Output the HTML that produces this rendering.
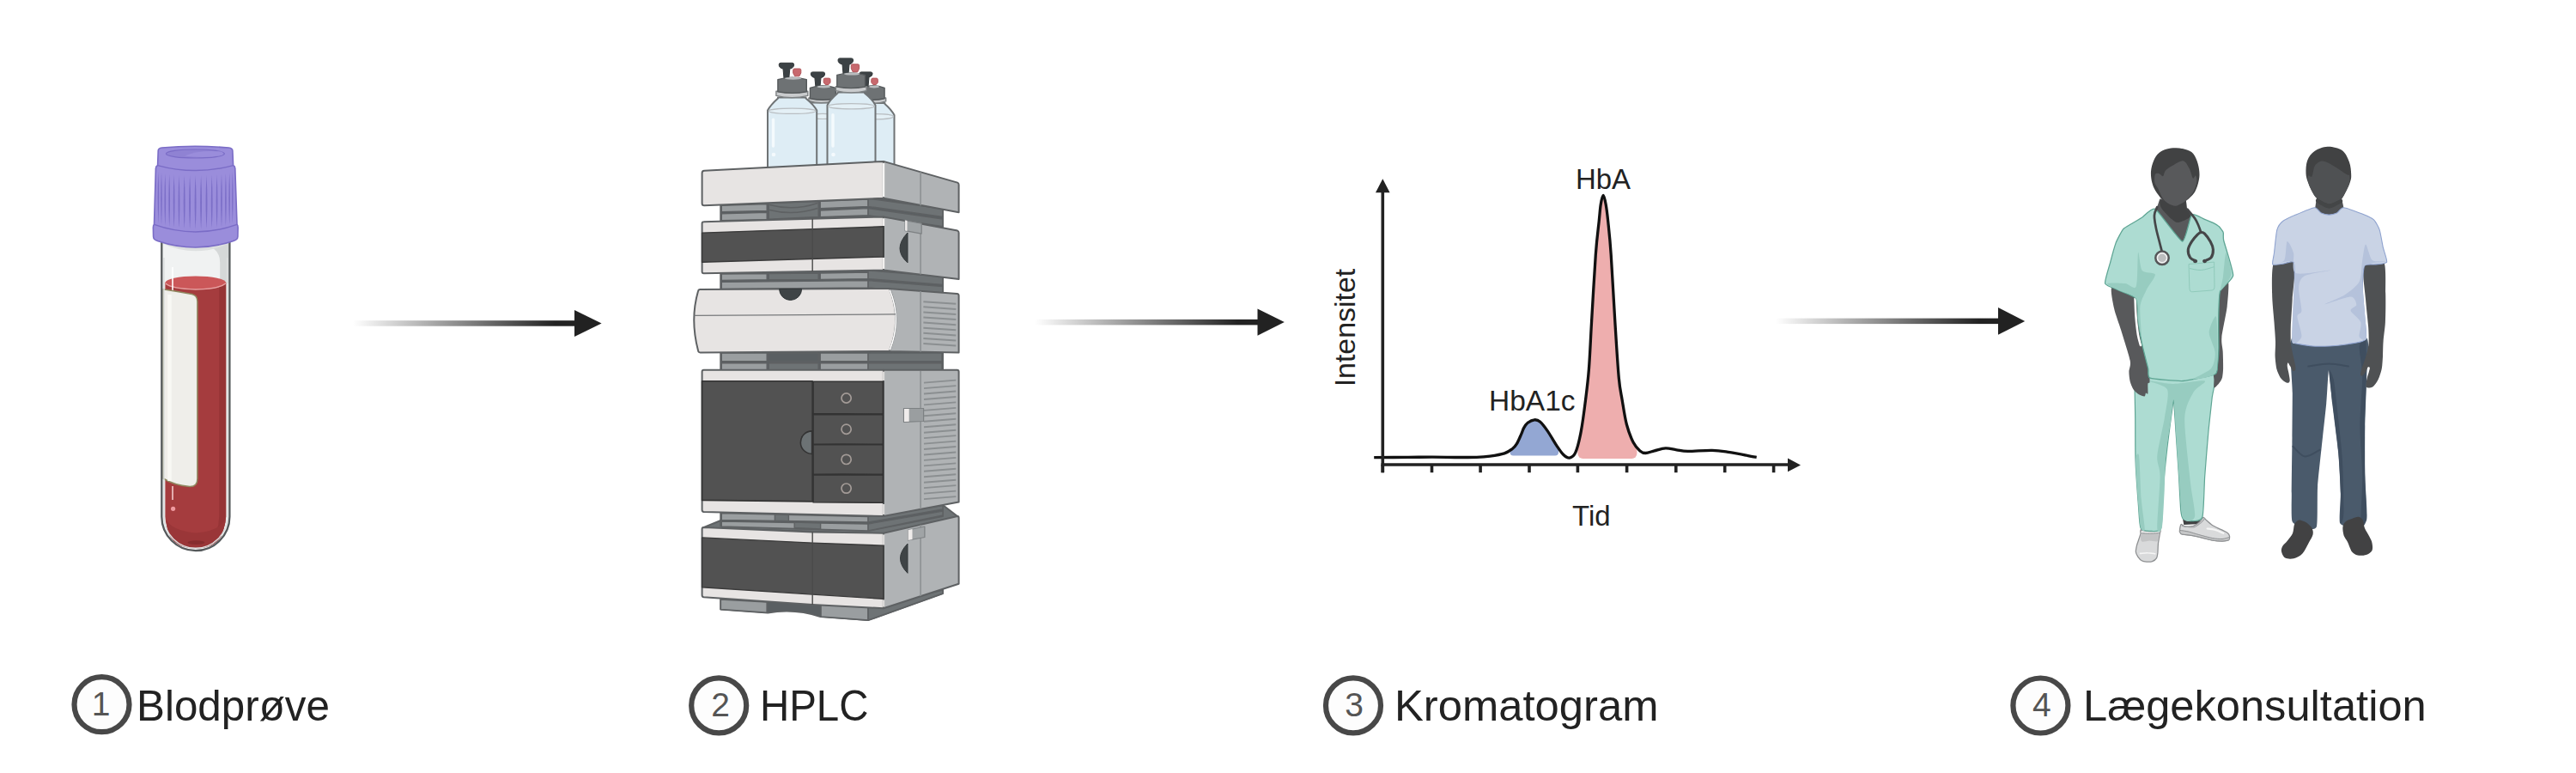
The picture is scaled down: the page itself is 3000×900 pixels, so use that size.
<!DOCTYPE html>
<html lang="da">
<head>
<meta charset="utf-8">
<title>HbA1c HPLC</title>
<style>
html,body{margin:0;padding:0;background:#fff;}
body{width:3000px;height:900px;overflow:hidden;}
svg{display:block;}
text{font-family:"Liberation Sans",sans-serif;}
.lbl{font-size:49.5px;fill:#222;}
.num{font-size:39px;fill:#555;text-anchor:middle;}
.ring{fill:#fdfdfd;stroke:#484848;stroke-width:6.2;}
.ct{font-size:34px;fill:#222;}
</style>
</head>
<body>
<svg width="3000" height="900" viewBox="0 0 3000 900">
<defs>
<linearGradient id="ag" x1="0" x2="1" y1="0" y2="0">
<stop offset="0" stop-color="#222" stop-opacity="0"/>
<stop offset="0.9" stop-color="#222" stop-opacity="1"/>
</linearGradient>
</defs>
<rect width="3000" height="900" fill="#fff"/>

<!-- ARROWS -->
<g id="arrows">
<rect x="411" y="373.2" width="262" height="6.5" fill="url(#ag)"/>
<path d="M669 361 L700.6 376.4 L669 392 Z" fill="#222"/>
<rect x="1205" y="371.9" width="263" height="6.5" fill="url(#ag)"/>
<path d="M1464.5 359.5 L1495.8 375.1 L1464.5 390.8 Z" fill="#222"/>
<rect x="2068" y="370.6" width="263" height="6.5" fill="url(#ag)"/>
<path d="M2327 358 L2358.2 373.9 L2327 389.8 Z" fill="#222"/>
</g>

<!-- LABELS -->
<g id="labels">
<circle class="ring" cx="118.5" cy="820.2" r="32"/>
<text class="num" x="117.5" y="833.3">1</text>
<text class="lbl" x="159" y="838.5" textLength="225" lengthAdjust="spacingAndGlyphs">Blodprøve</text>
<circle class="ring" cx="837.2" cy="821.4" r="32"/>
<text class="num" x="839" y="834.3">2</text>
<text class="lbl" x="885" y="838.6" textLength="126.5" lengthAdjust="spacingAndGlyphs">HPLC</text>
<circle class="ring" cx="1576" cy="821.4" r="32"/>
<text class="num" x="1577.2" y="834.3">3</text>
<text class="lbl" x="1624" y="838.6" textLength="307.5" lengthAdjust="spacingAndGlyphs">Kromatogram</text>
<circle class="ring" cx="2376.4" cy="821.5" r="32"/>
<text class="num" x="2377.8" y="834.3">4</text>
<text class="lbl" x="2426" y="838.6" textLength="399.7" lengthAdjust="spacingAndGlyphs">Lægekonsultation</text>
</g>

<!-- TUBE -->
<g id="tube">
<defs>
<clipPath id="tubeclip"><path d="M189.4 270 V601.5 A38.4 38.4 0 0 0 266.2 601.5 V270 Z"/></clipPath>
</defs>
<!-- glass -->
<path d="M188.3 270 V601.5 A39.55 39.55 0 0 0 267.4 601.5 V270 Z" fill="#f0f2f2"/>
<g clip-path="url(#tubeclip)">
<path d="M243 286 Q256.5 292 256.2 306 V330 L268 330 V276 Z" fill="#d5d8d8"/>
<path d="M189 270 V283.5 Q227.6 301 267 283.5 V270 Z" fill="#dde0e0"/>
<!-- blood body -->
<path d="M192.4 329.5 V601.5 A35.4 35.4 0 0 0 263.2 601.5 V329.5 Z" fill="#a53c3e"/>
<path d="M255.2 334 V601.5 Q255 620.5 243 632.5 Q262 624.5 263.2 601.5 V329.5 Z" fill="#963436"/>
<path d="M193.5 604.5 Q200 618 228 620.5 Q255 619 262 604.5 Q262 638.5 228 638.5 Q193.5 638.5 193.5 604.5 Z" fill="#9a3638"/>
<ellipse cx="228.5" cy="631.6" rx="10" ry="2.4" fill="#862d2f"/>
<!-- blood top -->
<ellipse cx="227.8" cy="329.2" rx="35.4" ry="7.8" fill="#cb5759"/>
<path d="M192.8 330 Q200 336.4 227.8 336.9 Q255 336.4 262.8 330" fill="none" stroke="#e7a0a1" stroke-width="1.5"/>
<path d="M201 311 V338" stroke="#fff" stroke-width="1.6"/>
<!-- label -->
<path d="M190 336.8 Q207 339.5 223.5 342.6 Q229.8 344 229.9 351 V557 Q230 566.8 221 566.6 Q203 565 190 557 Z" fill="#efeeea" stroke="#8f8961" stroke-width="1.5"/>
<path d="M197.5 343 V560" stroke="#f8f8f4" stroke-width="4.5"/>
<path d="M201 566 V582" stroke="#f3c9cb" stroke-width="1.6"/>
<circle cx="201.6" cy="592.3" r="2.6" fill="#ef9aa0"/>
</g>
<path d="M188.3 270 V601.5 A39.55 39.55 0 0 0 267.4 601.5 V270" fill="none" stroke="#55595b" stroke-width="2.3"/>
<path d="M191 300 V601.5 A36.85 36.85 0 0 0 264.7 601.5 V300" fill="none" stroke="#dcdfdf" stroke-width="1.5"/>
<!-- cap -->
<path d="M184.2 176 Q184 172.5 188.5 172 Q227 168.6 266.5 172 Q271 172.5 270.9 176 L271.6 192.4 Q273.6 193.2 273.8 196 L276 261 Q277.3 262.5 277.1 266 L276.9 275.5 Q276.7 279.3 272 280.4 Q227.6 295.5 183.4 280.4 Q178.8 279.3 178.6 275.5 L178.4 266 Q178.2 262.5 179.5 261 L181.4 196 Q181.6 193.2 183.6 192.4 Z" fill="#9a8ddb" stroke="#7a6cc6" stroke-width="1.6" stroke-linejoin="round"/>
<path d="M183.6 192.6 Q227.6 204.6 271.6 192.6" fill="none" stroke="#7a6cc6" stroke-width="1.5"/>
<path d="M179.5 261.4 Q227.6 278.6 276 261.4" fill="none" stroke="#7a6cc6" stroke-width="1.5"/>
<ellipse cx="227.4" cy="179" rx="34" ry="5" fill="#8f82d3" stroke="#7a6cc6" stroke-width="1.2"/>
<path d="M215 181.5 Q232 174.5 258 176.5 Q262 179 258 181 Q238 184.5 215 181.5 Z" fill="#9a8ddb"/>
<g fill="#7b6ec7" stroke="none"><path d="M184.4 200.0 Q183.0 230.0 184.4 260.0 Q185.8 230.0 184.4 200.0 Z"/><path d="M188.0 201.1 Q186.5 231.3 188.0 261.5 Q189.6 231.3 188.0 201.1 Z"/><path d="M192.3 202.0 Q190.7 232.4 192.3 262.8 Q193.9 232.4 192.3 202.0 Z"/><path d="M197.2 202.7 Q195.5 233.4 197.2 264.0 Q198.9 233.4 197.2 202.7 Z"/><path d="M202.6 203.4 Q200.9 234.1 202.6 264.9 Q204.4 234.1 202.6 203.4 Z"/><path d="M208.5 203.9 Q206.7 234.7 208.5 265.6 Q210.3 234.7 208.5 203.9 Z"/><path d="M214.7 204.2 Q212.8 235.2 214.7 266.1 Q216.5 235.2 214.7 204.2 Z"/><path d="M221.1 204.4 Q219.2 235.4 221.1 266.4 Q223.0 235.4 221.1 204.4 Z"/><path d="M227.6 204.5 Q225.7 235.5 227.6 266.5 Q229.5 235.5 227.6 204.5 Z"/><path d="M234.1 204.4 Q232.2 235.4 234.1 266.4 Q236.0 235.4 234.1 204.4 Z"/><path d="M240.5 204.2 Q238.7 235.2 240.5 266.1 Q242.4 235.2 240.5 204.2 Z"/><path d="M246.7 203.9 Q244.9 234.7 246.7 265.6 Q248.5 234.7 246.7 203.9 Z"/><path d="M252.6 203.4 Q250.8 234.1 252.6 264.9 Q254.3 234.1 252.6 203.4 Z"/><path d="M258.0 202.7 Q256.3 233.4 258.0 264.0 Q259.7 233.4 258.0 202.7 Z"/><path d="M262.9 202.0 Q261.3 232.4 262.9 262.8 Q264.5 232.4 262.9 202.0 Z"/><path d="M267.2 201.1 Q265.6 231.3 267.2 261.5 Q268.7 231.3 267.2 201.1 Z"/><path d="M270.8 200.0 Q269.4 230.0 270.8 260.0 Q272.2 230.0 270.8 200.0 Z"/></g>
</g>

<!-- HPLC -->
<g id="hplc">
<g id="bottles">
<path d="M945 119.5 L945 120.5 Q947 129 944 135 V196 H972 V135 Q969 129 970 120.5 L970 119.5 Z" fill="#deedf5" stroke="#6f7375" stroke-width="2" stroke-linejoin="round" />
<ellipse cx="958.0" cy="135.4" rx="12.8" ry="3.1" fill="#e4f0f6" stroke="#b9bec2" stroke-width="1.2"/>
<path d="M946.3 83.9 H958.6 Q960.6 83.9 960.6 85.9 Q960.6 89.5 956 90.5 L955 100.8 H949.9 L948.9 90.5 Q944.3 89.5 944.3 85.9 Q944.3 83.9 946.3 83.9 Z" fill="#3c4245" stroke="#33383a" stroke-width="1" stroke-linejoin="round" />
<path d="M960.7 91.1 H965.5 Q967 91.1 967 92.6 V96.1 L965 98.5 H961.2 L959.2 96.1 V92.6 Q959.2 91.1 960.7 91.1 Z" fill="#c8696e" stroke="#b2575c" stroke-width="1" stroke-linejoin="round" />
<path d="M941.9 114 H970.6 V117.5 Q956.25 122.0 941.9 117.5 Z" fill="#c9cbcd" stroke="#7d8183" stroke-width="1.4" stroke-linejoin="round" />
<path d="M943.4 102.3 Q958.4 97.3 973.4 102.3 V114.7 Q958.4 117.7 943.4 114.7 Z" fill="#6e7274" stroke="#55595b" stroke-width="1.4" stroke-linejoin="round" />
<ellipse cx="959.4" cy="101.0" rx="8.0" ry="1.5" fill="#b9bcbe"/>
<path d="M1009 119.9 L1009 120.9 Q1003 128 1000 134 V196 H1041.5 V134 Q1038.5 128 1030.5 120.9 L1030.5 119.9 Z" fill="#deedf5" stroke="#6f7375" stroke-width="2" stroke-linejoin="round" />
<ellipse cx="1020.75" cy="135.7" rx="19.55" ry="3.1" fill="#e4f0f6" stroke="#b9bec2" stroke-width="1.2"/>
<path d="M1003 83.9 H1014.1 Q1016.1 83.9 1016.1 85.9 Q1016.1 88.8 1012 89.8 L1011 100.8 H1006 L1005 89.8 Q1001 88.8 1001 85.9 Q1001 83.9 1003 83.9 Z" fill="#3c4245" stroke="#33383a" stroke-width="1" stroke-linejoin="round" />
<path d="M1016.3 91.1 H1020.8 Q1022.3 91.1 1022.3 92.6 V96.1 L1020.3 98.5 H1016.8 L1014.8 96.1 V92.6 Q1014.8 91.1 1016.3 91.1 Z" fill="#c8696e" stroke="#b2575c" stroke-width="1" stroke-linejoin="round" />
<path d="M1005 114 H1031.7 V117.9 Q1018.35 122.4 1005 117.9 Z" fill="#c9cbcd" stroke="#7d8183" stroke-width="1.4" stroke-linejoin="round" />
<path d="M1004 102.3 Q1017.05 97.3 1030.1 102.3 V114.7 Q1017.05 117.7 1004 114.7 Z" fill="#6e7274" stroke="#55595b" stroke-width="1.4" stroke-linejoin="round" />
<ellipse cx="1018.05" cy="101.0" rx="6.0499999999999545" ry="1.5" fill="#b9bcbe"/>
<path d="M906 113.4 L906 114.4 Q897 122.5 894 128.5 V196 H951.2 V128.5 Q948.2 122.5 938.5 114.4 L938.5 113.4 Z" fill="#deedf5" stroke="#6f7375" stroke-width="2" stroke-linejoin="round" />
<ellipse cx="922.6" cy="129.3" rx="27.400000000000023" ry="3.1" fill="#e4f0f6" stroke="#b9bec2" stroke-width="1.2"/>
<path d="M900.5 139.3 V170" stroke="#f4fafd" stroke-width="3.4" stroke-linecap="round" fill="none"/>
<circle cx="901" cy="180" r="2.3" fill="#f4fafd"/>
<path d="M909.2 73.3 H922.6 Q924.6 73.3 924.6 75.3 Q924.6 79.1 919.8 80.1 L918.8 91.1 H913 L912 80.1 Q907.2 79.1 907.2 75.3 Q907.2 73.3 909.2 73.3 Z" fill="#3c4245" stroke="#33383a" stroke-width="1" stroke-linejoin="round" />
<path d="M925.2 80 H931.3 Q932.8 80 932.8 81.5 V85 L930.8 88.8 H925.7 L923.7 85 V81.5 Q923.7 80 925.2 80 Z" fill="#c8696e" stroke="#b2575c" stroke-width="1" stroke-linejoin="round" />
<path d="M903.9 106.3 H940.8 V111.4 Q922.3499999999999 115.9 903.9 111.4 Z" fill="#c9cbcd" stroke="#7d8183" stroke-width="1.4" stroke-linejoin="round" />
<path d="M905.9 92.6 Q922.5999999999999 87.6 939.3 92.6 V106.9 Q922.5999999999999 109.9 905.9 106.9 Z" fill="#6e7274" stroke="#55595b" stroke-width="1.4" stroke-linejoin="round" />
<ellipse cx="923.5999999999999" cy="91.3" rx="9.699999999999989" ry="1.5" fill="#b9bcbe"/>
<path d="M975.5 107.6 L975.5 108.6 Q966.5 116.5 963.5 122.5 V196 H1019.5 V122.5 Q1016.5 116.5 1007 108.6 L1007 107.6 Z" fill="#deedf5" stroke="#6f7375" stroke-width="2" stroke-linejoin="round" />
<ellipse cx="991.5" cy="123.7" rx="26.8" ry="3.1" fill="#e4f0f6" stroke="#b9bec2" stroke-width="1.2"/>
<path d="M970.0 133.7 V170" stroke="#f4fafd" stroke-width="3.4" stroke-linecap="round" fill="none"/>
<circle cx="970.5" cy="180" r="2.3" fill="#f4fafd"/>
<path d="M978 67.9 H991.6 Q993.6 67.9 993.6 69.9 Q993.6 73.9 989 74.9 L988 85.9 H982 L981 74.9 Q976 73.9 976 69.9 Q976 67.9 978 67.9 Z" fill="#3c4245" stroke="#33383a" stroke-width="1" stroke-linejoin="round" />
<path d="M992.8 74.8 H999.1 Q1000.6 74.8 1000.6 76.3 V79.8 L998.6 83.9 H993.3 L991.3 79.8 V76.3 Q991.3 74.8 992.8 74.8 Z" fill="#c8696e" stroke="#b2575c" stroke-width="1" stroke-linejoin="round" />
<path d="M973.4 100.7 H1009.1 V105.6 Q991.25 110.1 973.4 105.6 Z" fill="#c9cbcd" stroke="#7d8183" stroke-width="1.4" stroke-linejoin="round" />
<path d="M974.8 87.4 Q991.15 82.4 1007.5 87.4 V101.1 Q991.15 104.1 974.8 101.1 Z" fill="#6e7274" stroke="#55595b" stroke-width="1.4" stroke-linejoin="round" />
<ellipse cx="992.15" cy="86.10000000000001" rx="9.350000000000023" ry="1.5" fill="#b9bcbe"/>
</g>
<path d="M839.3 697 L1011.1 706 L1098 686 V691.1 L1011.1 722.1 L955.5 718 Q925 708 894.2 713.5 L839.3 709.5 Z" fill="#5a5f62" stroke="#5e6163" stroke-width="2" stroke-linejoin="round" />
<path d="M839.3 698 L893.2 701 V713.2 L839.3 709.5 Z" fill="#9a9ea0" stroke="#5e6163" stroke-width="1.6" stroke-linejoin="round" />
<path d="M956 704 L1011.1 707 V722.1 L956 718 Z" fill="#9a9ea0" stroke="#5e6163" stroke-width="1.6" stroke-linejoin="round" />
<path d="M1011.1 707 L1098 686.9 V691.1 L1011.1 722.1 Z" fill="#6e7375" stroke="#5e6163" stroke-width="1.6" stroke-linejoin="round" />
<path d="M818.6 614.5 L839.3 606 L1098 588 L1115.6 601.5 L1028.9 621.5 Z" fill="#6e7375" stroke="#5e6163" stroke-width="2" stroke-linejoin="round" />
<path d="M839.3 594 L1011.1 599 L1098 586 V601 L1011.1 618 L839.3 612.5 Z" fill="#5a5f62" stroke="#5e6163" stroke-width="2" stroke-linejoin="round" />
<path d="M840.3 597.5 L1011.1 601.5 V608 L840.3 605.5 Z" fill="#9a9ea0" stroke="#5e6163" stroke-width="1.4" stroke-linejoin="round" />
<path d="M840.3 607 L1011.1 610 V618 L840.3 613 Z" fill="#9a9ea0" stroke="#5e6163" stroke-width="1.4" stroke-linejoin="round" />
<path d="M902.4 598.8 L918.4 599.5 V606.6 L902.4 606.2 Z" fill="#6e7375" stroke="#5e6163" stroke-width="1.4" stroke-linejoin="round" />
<path d="M925.2 608 L955.6 609 V616 L925.2 614.5 Z" fill="#6e7375" stroke="#5e6163" stroke-width="1.4" stroke-linejoin="round" />
<path d="M1011.1 601 L1098 588.6 V593 L1011.1 608 Z" fill="#6e7375" stroke="#5e6163" stroke-width="1.4" stroke-linejoin="round" />
<path d="M1011.1 610 L1098 595 V600 L1011.1 618 Z" fill="#6e7375" stroke="#5e6163" stroke-width="1.4" stroke-linejoin="round" />
<path d="M1028.9 620.7 L1115.1 601 Q1116.6 601 1116.6 603 V679.7 L1028.9 708.2 Z" fill="#b0b3b5" stroke="#5e6163" stroke-width="2" stroke-linejoin="round" />
<path d="M1072.1 611 V694" fill="none" stroke="#8b8f91" stroke-width="1.5" stroke-linejoin="round" />
<path d="M819.6 613.9 L946.2 619.5 L1028.9 620.7 V708.2 L946.2 704.1 L819.6 695.2 Q817.6 695 817.6 693 V616 Q817.6 614 819.6 613.9 Z" fill="#e7e4e3" stroke="#5e6163" stroke-width="2" stroke-linejoin="round" />
<path d="M817.6 625.9 L946.2 632.1 L1028.9 635.2 V697.3 L946.2 692.1 L817.6 683.8 Z" fill="#525252" stroke="#3a3a3a" stroke-width="1.4" stroke-linejoin="round" />
<path d="M946.2 619.5 V704.1" fill="none" stroke="#4a4a4a" stroke-width="1.4" stroke-linejoin="round" />
<path d="M1029.1000000000001 622.4 V634.4" fill="none" stroke="#dcdad9" stroke-width="2.2" stroke-linejoin="round" />
<path d="M1029.1000000000001 698.4 V706.6" fill="none" stroke="#dcdad9" stroke-width="2.2" stroke-linejoin="round" />
<path d="M1057.6 617 L1076.9 613 V625.5 L1057.6 629 Z" fill="#a0a4a6" stroke="#7d8183" stroke-width="1.2" stroke-linejoin="round" />
<path d="M1057.6 617 L1062.5 616 V628 L1057.6 629 Z" fill="#efeceb" stroke="none" stroke-width="0" stroke-linejoin="round" />
<path d="M1057 633.1 Q1040 650 1057 667.3 Z" fill="#3f4446" stroke="#33383a" stroke-width="1" stroke-linejoin="round" />
<path d="M839.3 409 H1098 V432.5 H839.3 Z" fill="#5a5f62" stroke="#5e6163" stroke-width="2" stroke-linejoin="round" />
<path d="M840.3 411 H893.2 V420.7 H840.3 Z" fill="#9a9ea0" stroke="#5e6163" stroke-width="1.4" stroke-linejoin="round" />
<path d="M895.2 411 H953.2 V420.7 H895.2 Z" fill="#5a5f62" stroke="#5e6163" stroke-width="1.4" stroke-linejoin="round" />
<path d="M955.2 411 H1011.1 V420.7 H955.2 Z" fill="#9a9ea0" stroke="#5e6163" stroke-width="1.4" stroke-linejoin="round" />
<path d="M1011.1 411 H1097 V420.7 H1011.1 Z" fill="#6e7375" stroke="#5e6163" stroke-width="1.4" stroke-linejoin="round" />
<path d="M840.3 422.8 H893.2 V431 H840.3 Z" fill="#9a9ea0" stroke="#5e6163" stroke-width="1.4" stroke-linejoin="round" />
<path d="M895.2 422.8 H953.2 V431 H895.2 Z" fill="#6e7375" stroke="#5e6163" stroke-width="1.4" stroke-linejoin="round" />
<path d="M955.2 422.8 H1011.1 V431 H955.2 Z" fill="#9a9ea0" stroke="#5e6163" stroke-width="1.4" stroke-linejoin="round" />
<path d="M1011.1 422.8 H1097 V431 H1011.1 Z" fill="#6e7375" stroke="#5e6163" stroke-width="1.4" stroke-linejoin="round" />
<path d="M1028.9 430.8 H1114.6 Q1116.6 430.8 1116.6 432.8 V584.5 L1028.9 601 Z" fill="#b0b3b5" stroke="#5e6163" stroke-width="2" stroke-linejoin="round" />
<path d="M1072.1 432 V592.5" fill="none" stroke="#8b8f91" stroke-width="1.5" stroke-linejoin="round" />
<path d="M1076 445.6 L1113.3 442.6" fill="none" stroke="#8b8f91" stroke-width="1.9" stroke-linejoin="round" />
<path d="M1076 452.1 L1113.3 449.1" fill="none" stroke="#8b8f91" stroke-width="1.9" stroke-linejoin="round" />
<path d="M1076 458.5 L1113.3 455.5" fill="none" stroke="#8b8f91" stroke-width="1.9" stroke-linejoin="round" />
<path d="M1076 465.0 L1113.3 462.0" fill="none" stroke="#8b8f91" stroke-width="1.9" stroke-linejoin="round" />
<path d="M1076 471.4 L1113.3 468.4" fill="none" stroke="#8b8f91" stroke-width="1.9" stroke-linejoin="round" />
<path d="M1076 477.9 L1113.3 474.9" fill="none" stroke="#8b8f91" stroke-width="1.9" stroke-linejoin="round" />
<path d="M1076 484.3 L1113.3 481.3" fill="none" stroke="#8b8f91" stroke-width="1.9" stroke-linejoin="round" />
<path d="M1076 490.8 L1113.3 487.8" fill="none" stroke="#8b8f91" stroke-width="1.9" stroke-linejoin="round" />
<path d="M1076 497.2 L1113.3 494.2" fill="none" stroke="#8b8f91" stroke-width="1.9" stroke-linejoin="round" />
<path d="M1076 503.7 L1113.3 500.7" fill="none" stroke="#8b8f91" stroke-width="1.9" stroke-linejoin="round" />
<path d="M1076 510.1 L1113.3 507.1" fill="none" stroke="#8b8f91" stroke-width="1.9" stroke-linejoin="round" />
<path d="M1076 516.6 L1113.3 513.6" fill="none" stroke="#8b8f91" stroke-width="1.9" stroke-linejoin="round" />
<path d="M1076 523.0 L1113.3 520.0" fill="none" stroke="#8b8f91" stroke-width="1.9" stroke-linejoin="round" />
<path d="M1076 529.5 L1113.3 526.5" fill="none" stroke="#8b8f91" stroke-width="1.9" stroke-linejoin="round" />
<path d="M1076 535.9 L1113.3 532.9" fill="none" stroke="#8b8f91" stroke-width="1.9" stroke-linejoin="round" />
<path d="M1076 542.4 L1113.3 539.4" fill="none" stroke="#8b8f91" stroke-width="1.9" stroke-linejoin="round" />
<path d="M1076 548.8 L1113.3 545.8" fill="none" stroke="#8b8f91" stroke-width="1.9" stroke-linejoin="round" />
<path d="M1076 555.2 L1113.3 552.2" fill="none" stroke="#8b8f91" stroke-width="1.9" stroke-linejoin="round" />
<path d="M1076 561.7 L1113.3 558.7" fill="none" stroke="#8b8f91" stroke-width="1.9" stroke-linejoin="round" />
<path d="M1076 568.1 L1113.3 565.1" fill="none" stroke="#8b8f91" stroke-width="1.9" stroke-linejoin="round" />
<path d="M1076 574.6 L1113.3 571.6" fill="none" stroke="#8b8f91" stroke-width="1.9" stroke-linejoin="round" />
<path d="M1076 581.1 L1113.3 578.1" fill="none" stroke="#8b8f91" stroke-width="1.9" stroke-linejoin="round" />
<path d="M819.6 430.8 H1028.9 V601 L819.6 595.9 Q817.6 595.7 817.6 593.7 V432.8 Q817.6 430.8 819.6 430.8 Z" fill="#e7e4e3" stroke="#5e6163" stroke-width="2" stroke-linejoin="round" />
<path d="M1029.1000000000001 432.6 V443" fill="none" stroke="#dcdad9" stroke-width="2.2" stroke-linejoin="round" />
<path d="M1029.1000000000001 587 V599" fill="none" stroke="#dcdad9" stroke-width="2.2" stroke-linejoin="round" />
<path d="M817.6 443.8 H946.2 V583.9 L817.6 582.4 Z" fill="#525252" stroke="#333" stroke-width="1.6" stroke-linejoin="round" />
<path d="M947.0 444.3 H1028.4 V482.1 L947.0 481.5 Z" fill="#525252" stroke="#333" stroke-width="1.6" stroke-linejoin="round" />
<path d="M947.0 482.6 H1028.4 V517.3 L947.0 516.6999999999999 Z" fill="#525252" stroke="#333" stroke-width="1.6" stroke-linejoin="round" />
<path d="M947.0 517.8 H1028.4 V552.4 L947.0 551.8 Z" fill="#525252" stroke="#333" stroke-width="1.6" stroke-linejoin="round" />
<path d="M947.0 552.9 H1028.4 V585.3 L947.0 584.6999999999999 Z" fill="#525252" stroke="#333" stroke-width="1.6" stroke-linejoin="round" />
<circle cx="985.6" cy="463.5" r="5.6" fill="none" stroke="#a39b97" stroke-width="1.7"/>
<circle cx="985.6" cy="499.7" r="5.6" fill="none" stroke="#a39b97" stroke-width="1.7"/>
<circle cx="985.6" cy="534.9" r="5.6" fill="none" stroke="#a39b97" stroke-width="1.7"/>
<circle cx="985.6" cy="568.6" r="5.6" fill="none" stroke="#a39b97" stroke-width="1.7"/>
<path d="M945.6 501.9 A13.2 13.2 0 0 0 945.6 528.4 Z" fill="#6c7274" stroke="#333" stroke-width="1.6" stroke-linejoin="round" />
<path d="M1052.5 475.5 H1075.6 V490.5 L1052.5 491.4 Z" fill="#9a9ea0" stroke="#7d8183" stroke-width="1.2" stroke-linejoin="round" />
<path d="M1053 476 H1058.7 V490.8 L1053 491 Z" fill="#efeceb" stroke="none" stroke-width="0" stroke-linejoin="round" />
<path d="M839.3 317 L1011.1 313 L1098 320 V342 L1011.1 337 H839.3 Z" fill="#5a5f62" stroke="#5e6163" stroke-width="2" stroke-linejoin="round" />
<path d="M840.3 319 L893.2 318.6 V325.8 L840.3 326.4 Z" fill="#9a9ea0" stroke="#5e6163" stroke-width="1.4" stroke-linejoin="round" />
<path d="M895.2 318.6 L953.2 318 V325.4 L895.2 325.8 Z" fill="#6e7375" stroke="#5e6163" stroke-width="1.4" stroke-linejoin="round" />
<path d="M955.2 318 L1011.1 317 V324.6 L955.2 325.4 Z" fill="#9a9ea0" stroke="#5e6163" stroke-width="1.4" stroke-linejoin="round" />
<path d="M840.3 328.4 L1011.1 326.6 V335 L840.3 336.4 Z" fill="#9a9ea0" stroke="#5e6163" stroke-width="1.4" stroke-linejoin="round" />
<path d="M1011.1 315 L1098 322 V331.5 L1011.1 324.6 Z" fill="#6e7375" stroke="#5e6163" stroke-width="1.4" stroke-linejoin="round" />
<path d="M1011.1 326.6 L1098 333.5 V341 L1011.1 335 Z" fill="#6e7375" stroke="#5e6163" stroke-width="1.4" stroke-linejoin="round" />
<path d="M1034 335.9 L1114.6 342 Q1116.6 342.2 1116.6 344.2 V410.4 L1034 408.9 Z" fill="#b0b3b5" stroke="#5e6163" stroke-width="2" stroke-linejoin="round" />
<path d="M1072.1 339 V409.5" fill="none" stroke="#8b8f91" stroke-width="1.5" stroke-linejoin="round" />
<path d="M1075.4 351.2 L1113.3 353.8" fill="none" stroke="#8b8f91" stroke-width="2" stroke-linejoin="round" />
<path d="M1075.4 357.3 L1113.3 359.9" fill="none" stroke="#8b8f91" stroke-width="2" stroke-linejoin="round" />
<path d="M1075.4 363.4 L1113.3 366.0" fill="none" stroke="#8b8f91" stroke-width="2" stroke-linejoin="round" />
<path d="M1075.4 369.5 L1113.3 372.1" fill="none" stroke="#8b8f91" stroke-width="2" stroke-linejoin="round" />
<path d="M1075.4 375.6 L1113.3 378.2" fill="none" stroke="#8b8f91" stroke-width="2" stroke-linejoin="round" />
<path d="M1075.4 381.7 L1113.3 384.3" fill="none" stroke="#8b8f91" stroke-width="2" stroke-linejoin="round" />
<path d="M1075.4 387.8 L1113.3 390.4" fill="none" stroke="#8b8f91" stroke-width="2" stroke-linejoin="round" />
<path d="M1075.4 393.9 L1113.3 396.5" fill="none" stroke="#8b8f91" stroke-width="2" stroke-linejoin="round" />
<path d="M1075.4 400.0 L1113.3 402.6" fill="none" stroke="#8b8f91" stroke-width="2" stroke-linejoin="round" />
<path d="M815.5 336.9 L1035.9 335.9 Q1050.5 372 1035.9 408.9 L815.5 410.4 Q813.3 410.4 813 408 Q803.5 372 813 339 Q813.3 336.9 815.5 336.9 Z" fill="#e7e4e3" stroke="#5e6163" stroke-width="2" stroke-linejoin="round" />
<path d="M1036.3 337.5 Q1050.3 372 1036.3 407.5" fill="none" stroke="#ffffff" stroke-width="1.6" stroke-linejoin="round" />
<path d="M808.6 367.3 L1043 365.9" fill="none" stroke="#77797b" stroke-width="1.3" stroke-linejoin="round" />
<path d="M907.6 336.5 A13 13 0 0 0 933.6 336.4 Z" fill="#3f4446" stroke="#33383a" stroke-width="1" stroke-linejoin="round" />
<path d="M839.3 237 L1011.1 229 L1098 241 V265 L1011.1 253 L839.3 258 Z" fill="#5a5f62" stroke="#5e6163" stroke-width="2" stroke-linejoin="round" />
<path d="M840.3 239.4 L893.2 237.6 V245.4 L840.3 246.6 Z" fill="#9a9ea0" stroke="#5e6163" stroke-width="1.4" stroke-linejoin="round" />
<path d="M840.3 248.8 L893.2 247.4 V255.6 L840.3 256.6 Z" fill="#9a9ea0" stroke="#5e6163" stroke-width="1.4" stroke-linejoin="round" />
<path d="M895.2 236.5 L953.2 234.6 V252.5 L895.2 255.2 Z" fill="#6e7375" stroke="#5e6163" stroke-width="1.4" stroke-linejoin="round" />
<path d="M896.2 238.5 Q924 246 952.2 236.5" fill="none" stroke="#5e6163" stroke-width="1.4" stroke-linejoin="round" />
<path d="M896.2 244.5 Q924 251.5 952.2 242.5" fill="none" stroke="#5e6163" stroke-width="1.4" stroke-linejoin="round" />
<path d="M955.2 234.4 L1011.1 232 V240.4 L955.2 242.8 Z" fill="#9a9ea0" stroke="#5e6163" stroke-width="1.4" stroke-linejoin="round" />
<path d="M955.2 245 L1011.1 242.6 V250.8 L955.2 252.6 Z" fill="#9a9ea0" stroke="#5e6163" stroke-width="1.4" stroke-linejoin="round" />
<path d="M1011.1 231 L1098 243 V252.4 L1011.1 240.4 Z" fill="#6e7375" stroke="#5e6163" stroke-width="1.4" stroke-linejoin="round" />
<path d="M1011.1 242.6 L1098 255 V263.6 L1011.1 250.8 Z" fill="#6e7375" stroke="#5e6163" stroke-width="1.4" stroke-linejoin="round" />
<path d="M1028.9 252.4 L1115.1 268.6 Q1116.6 269 1116.6 271 V324.9 L1028.9 314.5 Z" fill="#b0b3b5" stroke="#5e6163" stroke-width="2" stroke-linejoin="round" />
<path d="M1072.1 261 V319.6" fill="none" stroke="#8b8f91" stroke-width="1.5" stroke-linejoin="round" />
<path d="M819.6 258.2 L1028.9 252.4 V314.5 L819.6 318.2 Q817.6 318.2 817.6 316.2 V260.2 Q817.6 258.2 819.6 258.2 Z" fill="#e7e4e3" stroke="#5e6163" stroke-width="2" stroke-linejoin="round" />
<path d="M817.6 271.1 L1028.9 263.8 V299 L817.6 305.2 Z" fill="#525252" stroke="#3a3a3a" stroke-width="1.4" stroke-linejoin="round" />
<path d="M946.2 254.8 V316" fill="none" stroke="#4a4a4a" stroke-width="1.4" stroke-linejoin="round" />
<path d="M1029.1000000000001 254.2 V263" fill="none" stroke="#f2f0ef" stroke-width="2.2" stroke-linejoin="round" />
<path d="M1029.1000000000001 300 V313" fill="none" stroke="#f2f0ef" stroke-width="2.2" stroke-linejoin="round" />
<path d="M1054.1 256.6 L1073.2 260.2 V272.1 L1054.1 268.6 Z" fill="#a0a4a6" stroke="#7d8183" stroke-width="1.2" stroke-linejoin="round" />
<path d="M1054.1 256.6 L1056.5 257 V269 L1054.1 268.6 Z" fill="#efeceb" stroke="none" stroke-width="0" stroke-linejoin="round" />
<path d="M1057 271 Q1039 290 1057 305.8 Z" fill="#3f4446" stroke="#33383a" stroke-width="1" stroke-linejoin="round" />
<path d="M1028.9 187.9 L1115.1 212.6 Q1116.6 213.1 1116.6 215 V247.3 L1028.9 230.7 Z" fill="#b0b3b5" stroke="#5e6163" stroke-width="2" stroke-linejoin="round" />
<path d="M1072.1 200.3 V239.2" fill="none" stroke="#8b8f91" stroke-width="1.5" stroke-linejoin="round" />
<path d="M820.1 198.8 L1028.9 187.9 V230.7 L820.1 239.2 Q817.6 239.2 817.6 236.7 V201.5 Q817.6 199 820.1 198.8 Z" fill="#e7e4e3" stroke="#5e6163" stroke-width="2" stroke-linejoin="round" />
<path d="M1029.1000000000001 189.8 V229.2" fill="none" stroke="#f6f5f4" stroke-width="2.2" stroke-linejoin="round" />
</g>

<!-- CHART -->
<g id="chart">
<clipPath id="cpc"><path d="M1600.2 532.6 C1606.8 532.6 1628.7 532.5 1640.0 532.4 C1651.3 532.3 1658.0 532.1 1668.0 532.1 C1678.0 532.1 1691.4 532.5 1700.0 532.5 C1708.6 532.5 1713.8 532.6 1719.7 532.4 C1725.6 532.2 1729.8 531.9 1735.2 531.1 C1740.6 530.4 1747.7 529.3 1752.0 527.9 C1756.3 526.5 1758.7 524.5 1761.1 522.7 C1763.5 520.9 1764.6 519.7 1766.3 516.9 C1768.0 514.1 1770.1 509.0 1771.5 505.9 C1772.9 502.8 1773.4 500.4 1774.7 498.1 C1776.0 495.8 1777.2 493.9 1779.2 492.3 C1781.2 490.8 1784.6 489.0 1787.0 488.8 C1789.4 488.6 1790.9 488.8 1793.5 491.0 C1796.1 493.2 1799.3 497.5 1802.5 502.1 C1805.7 506.8 1809.9 514.4 1812.9 518.9 C1815.9 523.4 1818.1 526.9 1820.6 529.3 C1823.1 531.7 1825.5 533.5 1827.9 533.1 C1830.3 532.7 1832.7 531.9 1834.9 526.7 C1837.1 521.5 1839.4 512.2 1841.3 502.1 C1843.2 492.0 1845.0 477.9 1846.5 465.9 C1848.0 453.9 1849.2 445.3 1850.4 430.0 C1851.6 414.7 1852.3 396.2 1853.6 374.0 C1854.9 351.8 1856.9 315.9 1858.3 296.5 C1859.7 277.1 1861.2 267.3 1862.2 257.6 C1863.2 247.9 1863.4 243.2 1864.2 238.2 C1865.0 233.2 1866.2 227.4 1867.2 227.4 C1868.2 227.4 1869.3 233.2 1870.2 238.2 C1871.1 243.2 1871.7 247.9 1872.7 257.6 C1873.7 267.3 1874.9 277.1 1876.2 296.5 C1877.5 315.9 1879.3 350.1 1880.8 374.0 C1882.3 397.9 1883.9 424.7 1885.3 440.0 C1886.7 455.3 1887.7 456.8 1889.2 465.9 C1890.7 474.9 1892.2 486.1 1894.4 494.3 C1896.6 502.5 1899.5 509.9 1902.1 515.0 C1904.7 520.1 1907.5 522.8 1909.9 524.9 C1912.3 527.0 1913.6 527.5 1916.4 527.5 C1919.2 527.5 1922.8 525.9 1926.7 524.9 C1930.6 523.9 1935.4 522.0 1939.7 521.8 C1944.0 521.6 1948.3 523.2 1952.6 523.8 C1956.9 524.4 1958.6 525.3 1965.5 525.4 C1972.4 525.5 1985.8 524.1 1994.0 524.3 C2002.2 524.5 2006.1 525.4 2014.7 526.7 C2023.3 528.1 2040.5 531.5 2045.7 532.4 L2045.7 560 L1600.2 560 Z"/></clipPath>
<g clip-path="url(#cpc)"><rect x="1758.5" y="470" width="56.5" height="60.5" rx="4" fill="#93a7d3"/><rect x="1837.4" y="215" width="69" height="319" rx="6" fill="#eeaeae"/></g>
<path d="M1600.2 532.6 C1606.8 532.6 1628.7 532.5 1640.0 532.4 C1651.3 532.3 1658.0 532.1 1668.0 532.1 C1678.0 532.1 1691.4 532.5 1700.0 532.5 C1708.6 532.5 1713.8 532.6 1719.7 532.4 C1725.6 532.2 1729.8 531.9 1735.2 531.1 C1740.6 530.4 1747.7 529.3 1752.0 527.9 C1756.3 526.5 1758.7 524.5 1761.1 522.7 C1763.5 520.9 1764.6 519.7 1766.3 516.9 C1768.0 514.1 1770.1 509.0 1771.5 505.9 C1772.9 502.8 1773.4 500.4 1774.7 498.1 C1776.0 495.8 1777.2 493.9 1779.2 492.3 C1781.2 490.8 1784.6 489.0 1787.0 488.8 C1789.4 488.6 1790.9 488.8 1793.5 491.0 C1796.1 493.2 1799.3 497.5 1802.5 502.1 C1805.7 506.8 1809.9 514.4 1812.9 518.9 C1815.9 523.4 1818.1 526.9 1820.6 529.3 C1823.1 531.7 1825.5 533.5 1827.9 533.1 C1830.3 532.7 1832.7 531.9 1834.9 526.7 C1837.1 521.5 1839.4 512.2 1841.3 502.1 C1843.2 492.0 1845.0 477.9 1846.5 465.9 C1848.0 453.9 1849.2 445.3 1850.4 430.0 C1851.6 414.7 1852.3 396.2 1853.6 374.0 C1854.9 351.8 1856.9 315.9 1858.3 296.5 C1859.7 277.1 1861.2 267.3 1862.2 257.6 C1863.2 247.9 1863.4 243.2 1864.2 238.2 C1865.0 233.2 1866.2 227.4 1867.2 227.4 C1868.2 227.4 1869.3 233.2 1870.2 238.2 C1871.1 243.2 1871.7 247.9 1872.7 257.6 C1873.7 267.3 1874.9 277.1 1876.2 296.5 C1877.5 315.9 1879.3 350.1 1880.8 374.0 C1882.3 397.9 1883.9 424.7 1885.3 440.0 C1886.7 455.3 1887.7 456.8 1889.2 465.9 C1890.7 474.9 1892.2 486.1 1894.4 494.3 C1896.6 502.5 1899.5 509.9 1902.1 515.0 C1904.7 520.1 1907.5 522.8 1909.9 524.9 C1912.3 527.0 1913.6 527.5 1916.4 527.5 C1919.2 527.5 1922.8 525.9 1926.7 524.9 C1930.6 523.9 1935.4 522.0 1939.7 521.8 C1944.0 521.6 1948.3 523.2 1952.6 523.8 C1956.9 524.4 1958.6 525.3 1965.5 525.4 C1972.4 525.5 1985.8 524.1 1994.0 524.3 C2002.2 524.5 2006.1 525.4 2014.7 526.7 C2023.3 528.1 2040.5 531.5 2045.7 532.4" fill="none" stroke="#111" stroke-width="3.3" stroke-linecap="butt" stroke-linejoin="round"/>
<path d="M1610.3 222 V550.3" stroke="#222" stroke-width="3.6" fill="none"/>
<path d="M1610.3 208.3 L1618.6 224.2 H1602 Z" fill="#222"/>
<path d="M1608.5 541 H2083" stroke="#222" stroke-width="3.6" fill="none"/>
<path d="M2097 541.4 L2082 533.6 V549.2 Z" fill="#222"/>
<g stroke="#222" stroke-width="3.6" fill="none"><path d="M1610.3 541 V550.2"/><path d="M1667.5 541 V550.2"/><path d="M1724.1 541 V550.2"/><path d="M1781.0 541 V550.2"/><path d="M1837.4 541 V550.2"/><path d="M1894.6 541 V550.2"/><path d="M1951.8 541 V550.2"/><path d="M2008.7 541 V550.2"/><path d="M2065.6 541 V550.2"/></g>
<text class="ct" x="1835" y="220" textLength="64" lengthAdjust="spacingAndGlyphs">HbA</text>
<text class="ct" x="1734" y="477.5" textLength="100.5" lengthAdjust="spacingAndGlyphs">HbA1c</text>
<text class="ct" x="1831" y="612" textLength="44.5" lengthAdjust="spacingAndGlyphs">Tid</text>
<text class="ct" transform="translate(1578 450.3) rotate(-90)" textLength="137.5" lengthAdjust="spacingAndGlyphs">Intensitet</text>
</g>

<!-- PEOPLE -->
<g id="people">
<path d="M2493.6 616.3 C2495.2 615.9 2501.9 617.6 2504.8 617.6 C2507.7 617.5 2514.1 615.0 2515.5 615.8 C2516.8 616.6 2515.2 621.4 2515.0 623.5 C2514.7 625.7 2513.8 629.6 2513.5 632.2 C2513.2 634.9 2513.1 641.1 2512.9 643.4 C2512.6 645.7 2512.4 648.3 2511.6 649.6 C2510.8 651.0 2508.2 653.0 2506.6 653.6 C2505.1 654.2 2501.5 654.2 2499.8 654.1 C2498.2 654.0 2495.5 653.5 2494.2 652.7 C2492.9 652.0 2490.8 649.7 2489.9 648.4 C2489.0 647.1 2487.6 644.6 2487.4 642.8 C2487.2 641.0 2488.1 636.8 2488.6 634.7 C2489.1 632.7 2490.5 629.1 2491.1 627.3 C2491.7 625.4 2492.7 622.5 2493.0 621.1 C2493.3 619.6 2492.0 616.8 2493.6 616.3 Z" fill="#d9dadb" stroke="#8e9092" stroke-width="1.3" stroke-linejoin="round" stroke-linecap="round" />
<path d="M2494.3 621.1 C2495.8 620.1 2501.6 619.6 2504.2 619.6 C2506.7 619.6 2512.5 620.0 2513.7 621.1 C2515.0 622.1 2513.8 626.0 2513.5 627.3 C2513.2 628.5 2512.9 630.1 2511.6 630.4 C2510.3 630.7 2505.8 629.5 2503.5 629.5 C2501.3 629.6 2496.3 631.1 2494.8 630.7 C2493.4 630.4 2493.0 627.9 2493.0 626.6 C2492.9 625.4 2492.9 622.0 2494.3 621.1 Z" fill="#c3c4c5" stroke="none" stroke-width="0" stroke-linejoin="round" stroke-linecap="round" />
<path d="M2493.9 617.6 C2495.3 617.3 2501.9 618.9 2504.8 618.8 C2507.6 618.8 2513.9 616.9 2515.2 617.1 C2516.6 617.3 2516.4 619.8 2515.0 620.3 C2513.6 620.8 2507.6 621.0 2504.8 621.1 C2501.9 621.1 2495.1 621.0 2493.6 620.6 C2492.1 620.1 2492.4 617.8 2493.9 617.6 Z" fill="#efefef" stroke="#8e9092" stroke-width="1" stroke-linejoin="round" stroke-linecap="round" />
<path d="M2492.4 644.4 C2493.8 644.3 2498.2 643.6 2501.1 643.7 C2504.0 643.7 2508.3 644.5 2509.8 644.7" fill="none" stroke="#f6f6f6" stroke-width="1.6" stroke-linejoin="round" stroke-linecap="round" />
<path d="M2542.0 603.7 L2561.9 604.3 L2562.5 609.9 L2543.3 611.1 Z" fill="#414243" stroke="none" stroke-width="0" stroke-linejoin="round" stroke-linecap="round" />
<path d="M2540.2 610.5 C2540.9 610.3 2542.6 612.7 2544.5 613.0 C2546.4 613.2 2552.2 613.0 2554.5 612.4 C2556.7 611.7 2559.8 609.3 2561.3 608.0 C2562.8 606.7 2564.8 602.8 2565.9 602.4 C2567.0 602.1 2567.9 604.3 2569.4 605.5 C2570.8 606.8 2574.5 610.2 2576.8 611.7 C2579.2 613.2 2584.5 615.5 2586.8 616.7 C2589.1 617.9 2592.9 619.4 2594.2 620.4 C2595.5 621.4 2596.3 623.1 2596.5 624.2 C2596.6 625.3 2596.6 628.0 2595.5 628.8 C2594.3 629.5 2590.5 630.0 2588.0 630.0 C2585.5 630.0 2580.0 629.7 2576.8 629.1 C2573.7 628.6 2567.7 626.8 2564.4 626.0 C2561.1 625.2 2555.1 623.8 2552.0 623.3 C2548.9 622.8 2543.2 622.6 2541.4 622.0 C2539.6 621.5 2538.9 620.2 2538.6 619.2 C2538.2 618.1 2538.7 615.4 2538.9 614.2 C2539.2 613.1 2539.4 610.7 2540.2 610.5 Z" fill="#d9dadb" stroke="#8e9092" stroke-width="1.3" stroke-linejoin="round" stroke-linecap="round" />
<path d="M2539.1 617.6 C2540.5 617.5 2546.6 618.5 2549.5 619.2 C2552.4 619.9 2557.0 621.6 2560.7 622.5 C2564.3 623.5 2573.2 626.0 2576.8 626.6 C2580.5 627.3 2585.5 627.6 2588.0 627.5 C2590.6 627.4 2595.0 625.6 2596.0 625.8 C2597.0 625.9 2596.5 628.2 2595.5 628.8 C2594.4 629.3 2590.5 630.0 2588.0 630.0 C2585.5 630.0 2580.0 629.7 2576.8 629.1 C2573.7 628.6 2567.7 626.8 2564.4 626.0 C2561.1 625.2 2555.1 623.8 2552.0 623.3 C2548.9 622.8 2543.2 622.5 2541.4 622.0 C2539.7 621.6 2539.0 620.2 2538.7 619.6 C2538.4 619.0 2537.6 617.6 2539.1 617.6 Z" fill="#c6c7c8" stroke="#8e9092" stroke-width="1" stroke-linejoin="round" stroke-linecap="round" />
<path d="M2541.4 612.4 C2543.6 612.6 2550.8 614.5 2554.5 613.9 C2558.1 613.2 2561.0 610.3 2563.2 608.6 C2565.3 607.0 2566.8 604.7 2567.5 603.9" fill="none" stroke="#a2a4a6" stroke-width="1.2" stroke-linejoin="round" stroke-linecap="round" />
<path d="M2570.6 615.5 C2572.1 615.7 2576.2 615.8 2579.3 616.7 C2582.4 617.6 2587.6 620.1 2589.3 620.8" fill="none" stroke="#f6f6f6" stroke-width="2.2" stroke-linejoin="round" stroke-linecap="round" />
<path d="M2486.0 440.2 C2484.2 442.1 2486.0 444.8 2486.0 450.3 C2486.1 455.7 2486.6 477.0 2486.7 487.2 C2486.8 497.4 2486.6 525.9 2487.1 537.6 C2487.5 549.4 2489.7 579.0 2490.4 588.1 C2491.1 597.1 2491.5 611.4 2493.1 615.0 C2494.7 618.5 2501.1 618.3 2503.9 618.3 C2506.6 618.3 2514.9 620.4 2516.6 615.0 C2518.4 609.5 2518.1 582.2 2519.0 571.3 C2519.9 560.3 2522.7 532.2 2524.0 520.8 C2525.3 509.5 2529.2 480.3 2530.1 473.8 C2530.9 467.3 2531.0 461.8 2531.4 465.4 C2531.9 468.9 2533.4 493.6 2534.1 504.0 C2534.8 514.4 2536.8 543.9 2537.5 554.5 C2538.1 565.0 2539.2 589.0 2539.8 594.8 C2540.4 600.6 2540.8 602.8 2542.5 604.2 C2544.2 605.6 2551.7 606.9 2554.3 606.6 C2556.9 606.2 2563.5 607.6 2565.0 601.5 C2566.6 595.4 2566.9 565.8 2567.7 554.5 C2568.5 543.1 2570.8 514.6 2571.8 504.0 C2572.7 493.4 2575.3 471.7 2576.1 463.7 C2576.9 455.7 2582.6 439.0 2578.5 435.1 C2574.4 431.2 2549.7 430.3 2540.8 430.1 C2531.9 429.9 2508.6 432.3 2502.2 433.4 C2495.8 434.6 2487.9 438.2 2486.0 440.2 Z" fill="#addcd2" stroke="#5fa594" stroke-width="1.2" stroke-linejoin="round" stroke-linecap="round" />
<path d="M2502.2 443.5 C2503.2 442.6 2522.7 446.9 2531.4 446.9 C2540.2 446.9 2564.7 442.2 2567.7 443.5 C2570.8 444.9 2557.4 451.1 2554.3 457.0 C2551.1 462.8 2544.6 473.3 2544.2 487.2 C2543.8 501.1 2549.4 545.9 2550.9 561.2 C2552.5 576.4 2557.1 595.9 2556.0 601.5 C2554.8 607.1 2545.0 609.5 2542.5 603.2 C2540.1 596.9 2538.6 567.7 2537.5 554.5 C2536.4 541.2 2534.9 515.9 2534.1 504.0 C2533.3 492.2 2532.2 467.2 2531.4 465.4 C2530.6 463.6 2529.3 482.3 2528.1 490.6 C2526.9 498.9 2523.3 516.8 2522.4 527.6 C2521.4 538.3 2521.3 559.8 2520.7 571.3 C2520.1 582.7 2519.1 607.4 2518.0 613.3 C2516.9 619.1 2512.6 622.8 2512.3 615.0 C2512.0 607.1 2515.6 565.7 2515.6 554.5 C2515.6 543.2 2511.6 539.9 2512.3 530.9 C2512.9 522.0 2519.1 497.5 2520.7 487.2 C2522.2 476.9 2526.5 459.4 2524.0 453.6 C2521.6 447.8 2501.2 444.4 2502.2 443.5 Z" fill="#97ccc0" stroke="none" stroke-width="0" stroke-linejoin="round" stroke-linecap="round" />
<path d="M2487.1 537.6 C2487.0 545.3 2489.6 577.8 2490.4 588.1 C2491.2 598.3 2492.1 610.6 2493.1 614.3 C2494.1 618.0 2497.7 620.4 2497.8 616.0 C2497.9 611.6 2494.7 592.7 2493.8 581.3 C2492.9 570.0 2492.0 536.7 2491.1 530.9 C2490.2 525.1 2487.1 530.0 2487.1 537.6 Z" fill="#97ccc0" stroke="none" stroke-width="0" stroke-linejoin="round" stroke-linecap="round" />
<path d="M2459.1 334.7 C2457.7 338.1 2460.6 352.5 2462.1 359.2 C2463.6 365.8 2467.8 376.7 2470.3 384.8 C2472.7 392.9 2479.5 413.4 2480.7 419.8 C2481.9 426.1 2479.4 429.4 2479.4 432.7 C2479.4 436.0 2480.0 441.6 2480.7 444.3 C2481.4 447.1 2483.2 451.4 2484.6 453.4 C2486.0 455.4 2489.3 458.1 2491.0 459.2 C2492.8 460.3 2496.4 461.6 2497.5 461.4 C2498.6 461.2 2498.5 457.9 2499.1 457.5 C2499.6 457.1 2501.1 459.7 2501.4 458.3 C2501.7 456.9 2501.1 448.7 2501.4 446.9 C2501.7 445.1 2503.2 446.4 2503.5 445.0 C2503.7 443.6 2503.4 438.7 2503.5 436.6 C2503.5 434.4 2503.4 431.1 2504.0 428.8 C2504.5 426.6 2508.1 423.4 2507.5 419.7 C2506.9 416.0 2501.2 407.3 2499.4 401.1 C2497.6 394.9 2495.0 380.6 2494.0 373.1 C2493.1 365.7 2495.2 350.5 2492.4 345.2 C2489.5 339.9 2477.0 335.0 2472.6 333.6 C2468.2 332.2 2460.5 331.3 2459.1 334.7 Z" fill="#58595b" stroke="none" stroke-width="0" stroke-linejoin="round" stroke-linecap="round" />
<path d="M2594.9 327.7 C2596.2 330.2 2594.7 348.2 2593.7 356.8 C2592.7 365.5 2588.1 385.6 2587.4 392.6 C2586.7 399.6 2588.5 404.6 2588.7 409.4 C2588.9 414.2 2589.2 424.8 2589.1 428.8 C2589.0 432.8 2588.6 436.9 2588.1 439.2 C2587.5 441.4 2586.1 444.0 2584.8 445.6 C2583.6 447.3 2579.6 452.1 2578.7 451.6 C2577.9 451.1 2578.5 444.7 2578.4 441.7 C2578.2 438.7 2577.2 433.8 2577.4 429.0 C2577.6 424.2 2579.3 413.2 2579.7 405.7 C2580.2 398.3 2580.4 382.1 2580.9 373.1 C2581.3 364.1 2581.3 344.3 2583.2 338.2 C2585.1 332.2 2593.5 325.3 2594.9 327.7 Z" fill="#58595b" stroke="none" stroke-width="0" stroke-linejoin="round" stroke-linecap="round" />
<path d="M2486.6 347.5 C2486.8 351.2 2487.0 362.7 2487.6 369.7 C2488.2 376.7 2489.0 384.3 2489.9 389.7 C2490.8 395.1 2492.5 399.9 2493.0 402.0" fill="none" stroke="#ffffff" stroke-width="2.6" stroke-linejoin="round" stroke-linecap="round" />
<path d="M2515.3 231.5 L2511.7 242.4 L2509.0 245.1 L2541.6 283.2 L2554.3 250.6 L2547.0 242.4 L2545.6 232.4 Z" fill="#58595b" stroke="none" stroke-width="0" stroke-linejoin="round" stroke-linecap="round" />
<path d="M2517.1 232.4 C2514.7 232.4 2515.1 237.5 2515.9 239.7 C2516.6 241.9 2520.1 246.2 2522.6 248.7 C2525.0 251.3 2531.3 257.7 2534.3 258.7 C2537.4 259.7 2543.0 257.0 2545.2 256.0 C2547.4 255.0 2550.8 253.3 2551.0 251.5 C2551.2 249.6 2547.4 244.8 2546.6 242.4 C2545.9 240.0 2546.8 233.7 2545.2 233.3 C2543.6 233.0 2538.1 239.8 2534.3 239.7 C2530.6 239.6 2519.6 232.4 2517.1 232.4 Z" fill="#414243" stroke="none" stroke-width="0" stroke-linejoin="round" stroke-linecap="round" />
<path d="M2509.9 243.3 C2506.0 241.0 2496.8 251.8 2494.5 253.3 C2492.2 254.7 2483.9 259.6 2482.0 260.7 C2480.2 261.8 2474.1 265.0 2472.6 266.8 C2471.1 268.6 2465.5 279.3 2464.2 282.6 C2463.0 285.9 2458.5 302.2 2457.5 306.1 C2456.4 310.1 2450.8 327.4 2451.6 330.1 C2452.5 332.7 2464.9 336.8 2467.9 338.2 C2471.0 339.7 2485.9 344.6 2487.7 347.5 C2489.6 350.4 2489.5 368.7 2490.1 373.1 C2490.6 377.6 2493.8 396.4 2494.7 401.1 C2495.7 405.7 2500.9 425.8 2501.7 429.0 C2502.5 432.3 2500.6 439.0 2504.0 440.2 C2507.4 441.4 2536.2 443.9 2542.5 443.5 C2548.8 443.1 2576.4 437.1 2579.7 435.6 C2583.1 434.0 2582.2 426.9 2582.5 424.4 C2582.9 421.9 2583.8 410.0 2583.9 405.7 C2584.0 401.5 2583.5 378.7 2583.7 373.1 C2583.8 367.6 2584.1 343.7 2585.5 339.4 C2587.0 335.0 2600.3 325.7 2600.7 320.8 C2601.0 315.8 2590.7 284.2 2589.7 280.0 C2588.8 275.8 2589.7 271.8 2589.2 270.5 C2588.7 269.1 2585.1 264.5 2584.1 263.6 C2583.2 262.7 2579.2 260.3 2577.8 259.6 C2576.4 258.9 2569.0 255.9 2566.9 255.1 C2564.8 254.3 2554.6 247.9 2552.4 250.0 C2550.3 252.2 2545.1 281.5 2541.6 281.0 C2538.0 280.4 2513.8 245.6 2509.9 243.3 Z" fill="#addcd2" stroke="#5fa594" stroke-width="1.3" stroke-linejoin="round" stroke-linecap="round" />
<path d="M2490.1 294.0 C2491.0 291.5 2492.1 311.5 2494.7 314.9 C2497.4 318.3 2509.2 316.5 2509.9 319.6 C2510.5 322.7 2501.7 333.2 2499.4 338.2 C2497.1 343.2 2493.1 349.7 2492.4 356.8 C2491.7 364.0 2494.3 389.6 2494.0 391.8 C2493.7 393.9 2490.9 379.0 2490.1 373.1 C2489.2 367.2 2490.7 352.2 2487.7 347.5 C2484.8 342.9 2472.4 340.5 2467.9 338.2 C2463.4 335.9 2453.0 331.2 2454.0 330.1 C2454.9 329.0 2470.4 329.6 2474.9 330.1 C2479.4 330.5 2485.7 338.4 2487.7 333.6 C2489.8 328.7 2489.1 296.5 2490.1 294.0 Z" fill="#97ccc0" stroke="none" stroke-width="0" stroke-linejoin="round" stroke-linecap="round" />
<path d="M2572.7 387.1 C2572.9 381.5 2579.6 366.0 2580.9 368.5 C2582.2 371.0 2582.7 396.9 2582.5 405.7 C2582.4 414.6 2583.5 430.3 2579.7 435.1 C2575.9 439.8 2554.7 442.2 2554.1 441.4 C2553.5 440.6 2571.6 433.2 2575.1 429.0 C2578.5 424.9 2580.0 416.0 2579.7 410.4 C2579.4 404.8 2572.6 392.7 2572.7 387.1 Z" fill="#97ccc0" stroke="none" stroke-width="0" stroke-linejoin="round" stroke-linecap="round" />
<path d="M2592.5 294.0 C2593.8 293.7 2599.2 313.7 2598.3 319.6 C2597.5 325.5 2587.5 337.9 2586.2 338.2 C2585.0 338.5 2588.2 327.8 2589.0 321.9 C2589.9 316.0 2591.3 294.3 2592.5 294.0 Z" fill="#97ccc0" stroke="none" stroke-width="0" stroke-linejoin="round" stroke-linecap="round" />
<path d="M2549.4 307.5 L2578.6 305.1 L2579.0 334.3 Q2579.0 337.7 2576.2 338.0 L2552.7 339.8 Q2549.9 339.8 2549.9 336.6 Z" fill="none" stroke="#8cc7b8" stroke-width="0.9" stroke-linejoin="round" stroke-linecap="round" />
<path d="M2550.4 312.6 C2552.5 312.9 2558.8 314.8 2563.4 314.5 C2568.1 314.2 2575.8 311.4 2578.3 310.7" fill="none" stroke="#8cc9b9" stroke-width="1" stroke-linejoin="round" stroke-linecap="round" />
<path d="M2512.2 241.1 C2511.7 242.7 2509.2 246.6 2509.0 250.6 C2508.7 254.5 2509.7 259.6 2510.8 265.0 C2511.8 270.5 2514.1 278.3 2515.3 283.2 C2516.5 288.0 2517.6 292.2 2518.0 294.0 C2518.5 295.8 2518.0 294.0 2518.0 294.0" fill="none" stroke="#454648" stroke-width="2.7" stroke-linejoin="round" stroke-linecap="round" />
<path d="M2547.4 243.7 C2548.8 245.4 2553.9 250.9 2556.1 254.2 C2558.3 257.4 2559.4 260.5 2560.6 263.2 C2561.8 266.0 2562.9 269.6 2563.3 270.8" fill="none" stroke="#454648" stroke-width="2.7" stroke-linejoin="round" stroke-linecap="round" />
<path d="M2557.6 304.0 C2556.4 303.3 2552.2 302.0 2550.6 299.8 C2549.1 297.5 2548.0 293.6 2548.3 290.5 C2548.6 287.4 2550.5 284.3 2552.4 281.3 C2554.3 278.4 2557.9 274.5 2559.7 272.7 C2561.5 270.8 2562.0 270.6 2563.3 270.5 C2564.6 270.4 2565.5 270.1 2567.3 271.9 C2569.1 273.7 2572.5 278.3 2574.2 281.3 C2575.9 284.4 2577.2 287.4 2577.4 290.5 C2577.5 293.6 2576.8 297.5 2575.1 299.8 C2573.3 302.0 2568.3 303.3 2566.9 304.0" fill="none" stroke="#454648" stroke-width="3.1" stroke-linejoin="round" stroke-linecap="round" />
<circle cx="2556.4" cy="304.0" r="2.3" fill="#454648"/>
<circle cx="2567.6" cy="304.0" r="2.3" fill="#454648"/>
<circle cx="2518.0" cy="300.3" r="7.7" fill="#f2f2f2" stroke="#555658" stroke-width="2.5"/>
<circle cx="2518.0" cy="300.3" r="4.8" fill="#bdbebf"/>
<path d="M2534.3 172.3 C2538.0 172.4 2541.9 173.0 2545.2 174.1 C2548.5 175.2 2551.8 176.2 2554.3 179.0 C2556.7 181.8 2558.5 186.7 2559.7 190.8 C2560.9 194.9 2561.5 199.5 2561.5 203.5 C2561.5 207.4 2560.6 211.0 2559.7 214.3 C2558.8 217.7 2557.6 220.8 2556.1 223.4 C2554.6 226.0 2552.4 227.9 2550.6 229.7 C2548.8 231.5 2547.9 232.5 2545.2 234.3 C2542.5 236.0 2537.7 239.6 2534.3 240.1 C2531.0 240.5 2528.0 238.3 2525.3 237.0 C2522.6 235.6 2519.8 233.6 2518.0 232.1 C2516.2 230.6 2515.8 229.7 2514.4 227.9 C2513.1 226.2 2511.2 224.1 2509.9 221.6 C2508.5 219.0 2507.1 216.1 2506.3 212.5 C2505.4 208.9 2504.7 204.1 2505.0 199.8 C2505.3 195.6 2506.5 190.8 2508.1 187.2 C2509.6 183.5 2511.8 180.4 2514.4 178.1 C2517.0 175.8 2520.1 174.5 2523.5 173.6 C2526.8 172.6 2530.7 172.2 2534.3 172.3 Z" fill="#414243" stroke="none" stroke-width="0" stroke-linejoin="round" stroke-linecap="round" />
<path d="M2518.9 205.3 C2520.0 204.8 2520.2 200.7 2521.7 198.9 C2523.1 197.2 2525.8 195.3 2528.9 193.5 C2532.0 191.7 2539.4 186.8 2542.5 187.2 C2545.6 187.6 2548.0 193.2 2549.7 196.2 C2551.4 199.3 2552.8 206.2 2553.9 207.5 C2555.0 208.7 2556.3 203.9 2557.0 204.4 C2557.7 204.9 2558.5 208.5 2558.4 210.7 C2558.3 212.9 2557.3 216.6 2556.4 218.9 C2555.5 221.2 2554.1 223.9 2552.4 226.1 C2550.8 228.4 2547.9 231.9 2545.2 233.9 C2542.5 235.9 2537.3 239.2 2534.3 239.7 C2531.3 240.2 2527.7 238.3 2525.3 237.0 C2522.9 235.6 2520.2 233.2 2518.4 230.6 C2516.6 228.1 2514.9 222.8 2513.5 220.1 C2512.1 217.4 2509.9 215.1 2509.3 212.5 C2508.8 210.0 2509.1 204.7 2509.9 203.1 C2510.6 201.5 2513.1 201.7 2514.4 202.0 C2515.8 202.3 2517.9 205.7 2518.9 205.3 Z" fill="#58595b" stroke="none" stroke-width="0" stroke-linejoin="round" stroke-linecap="round" />
<path d="M2669.2 393.6 C2665.0 400.2 2669.8 445.4 2669.8 457.7 C2669.8 469.9 2669.5 504.3 2669.4 515.9 C2669.3 527.6 2668.8 565.0 2668.8 574.2 C2668.9 583.3 2668.1 603.1 2669.6 607.2 C2671.2 611.3 2681.5 614.4 2684.4 615.0 C2687.2 615.5 2696.5 617.9 2698.0 613.0 C2699.4 608.2 2698.5 575.7 2699.1 566.4 C2699.7 557.1 2702.8 529.4 2703.8 519.8 C2704.8 510.2 2708.4 479.0 2709.2 470.1 C2710.1 461.2 2711.4 430.9 2712.1 430.9 C2712.8 430.9 2715.1 460.4 2716.2 470.1 C2717.3 479.8 2722.2 517.2 2723.2 527.6 C2724.2 538.0 2725.7 566.0 2725.9 574.2 C2726.1 582.3 2723.7 605.2 2725.1 609.1 C2726.6 613.0 2737.6 613.4 2740.7 613.0 C2743.8 612.6 2754.9 611.1 2756.2 605.2 C2757.6 599.4 2754.5 565.6 2754.3 554.8 C2754.1 543.9 2754.1 508.2 2754.3 496.5 C2754.5 484.9 2756.0 448.5 2756.2 438.3 C2756.4 428.0 2760.6 398.3 2756.2 393.6 C2751.8 388.9 2721.0 391.7 2712.3 391.7 C2703.6 391.7 2673.5 387.0 2669.2 393.6 Z" fill="#4a5a6b" stroke="none" stroke-width="0" stroke-linejoin="round" stroke-linecap="round" />
<path d="M2747.7 403.3 C2748.2 397.6 2754.0 390.9 2755.0 395.5 C2756.1 400.2 2756.0 424.8 2755.8 438.3 C2755.7 451.7 2754.1 481.0 2753.9 496.5 C2753.7 512.0 2754.0 540.4 2754.3 554.8 C2754.5 569.2 2756.4 597.2 2755.8 604.5 C2755.2 611.7 2750.2 615.8 2749.6 609.1 C2749.0 602.5 2751.3 569.8 2751.2 554.8 C2751.0 539.7 2748.4 512.0 2748.4 496.5 C2748.4 481.0 2751.3 450.7 2751.2 438.3 C2751.1 425.8 2747.2 409.0 2747.7 403.3 Z" fill="#3f4e5f" stroke="none" stroke-width="0" stroke-linejoin="round" stroke-linecap="round" />
<path d="M2712.3 431.7 C2712.2 435.4 2715.1 457.3 2716.6 470.1 C2718.1 482.9 2722.2 513.7 2723.4 527.6 C2724.6 541.5 2725.6 563.4 2725.9 574.2 C2726.2 584.9 2725.1 605.2 2725.5 608.3 C2726.0 611.5 2729.1 607.2 2729.4 597.5 C2729.7 587.7 2728.8 550.9 2727.9 535.3 C2726.9 519.8 2723.8 493.4 2722.4 481.0 C2721.1 468.5 2719.1 448.7 2717.8 442.1 C2716.4 435.6 2712.5 427.9 2712.3 431.7 Z" fill="#3f4e5f" stroke="none" stroke-width="0" stroke-linejoin="round" stroke-linecap="round" />
<path d="M2688.3 426.6 C2692.3 426.1 2704.6 423.5 2712.3 423.5 C2720.1 423.5 2731.1 426.1 2734.9 426.6" fill="none" stroke="#3f4e5f" stroke-width="2" stroke-linejoin="round" stroke-linecap="round" />
<path d="M2670.4 519.8 C2672.7 521.7 2679.1 530.8 2684.4 531.5 C2689.6 532.1 2698.9 525.0 2701.8 523.7" fill="none" stroke="#3f4e5f" stroke-width="2" stroke-linejoin="round" stroke-linecap="round" />
<path d="M2678.7 605.5 C2680.4 605.8 2684.1 607.2 2686.1 608.6 C2688.2 610.0 2691.2 612.8 2692.4 614.8 C2693.5 616.9 2694.2 619.7 2693.6 622.3 C2693.0 624.9 2690.5 628.9 2688.6 632.2 C2686.8 635.6 2683.8 642.0 2681.2 644.7 C2678.6 647.4 2674.2 649.5 2671.2 650.2 C2668.3 651.0 2663.4 650.8 2661.3 649.6 C2659.2 648.4 2657.4 644.2 2657.0 642.2 C2656.5 640.1 2657.2 637.8 2658.2 636.0 C2659.2 634.1 2662.0 632.0 2663.8 629.8 C2665.6 627.5 2668.8 623.9 2670.0 621.1 C2671.2 618.3 2671.1 613.3 2671.9 611.1 C2672.6 609.0 2673.9 607.6 2675.0 606.8 C2676.0 605.9 2677.0 605.2 2678.7 605.5 Z" fill="#424243" stroke="none" stroke-width="0" stroke-linejoin="round" stroke-linecap="round" />
<path d="M2747.0 601.8 C2748.9 602.2 2751.0 604.2 2752.0 606.1 C2753.0 608.1 2752.7 612.0 2753.9 614.8 C2755.0 617.6 2758.1 622.2 2759.4 624.8 C2760.7 627.4 2762.1 629.8 2762.5 632.2 C2763.0 634.7 2763.6 638.9 2762.5 640.9 C2761.5 643.0 2758.2 645.1 2755.7 645.9 C2753.2 646.7 2748.3 647.1 2745.8 646.5 C2743.3 646.0 2740.7 644.5 2738.9 642.2 C2737.2 639.8 2735.4 633.8 2734.0 631.0 C2732.6 628.2 2730.5 626.1 2729.6 623.5 C2728.8 620.9 2728.1 616.0 2728.4 613.6 C2728.7 611.2 2729.8 608.9 2731.5 607.4 C2733.2 605.9 2737.2 604.5 2739.6 603.7 C2741.9 602.8 2745.2 601.4 2747.0 601.8 Z" fill="#424243" stroke="none" stroke-width="0" stroke-linejoin="round" stroke-linecap="round" />
<path d="M2648.5 305.2 C2645.1 310.0 2646.1 332.2 2646.1 341.5 C2646.1 350.8 2648.0 367.7 2648.5 375.1 C2649.0 382.6 2649.9 392.2 2650.0 397.5 C2650.2 402.8 2649.4 410.6 2649.6 414.9 C2649.8 419.3 2650.7 426.8 2651.5 430.1 C2652.3 433.3 2654.4 437.4 2655.6 439.4 C2656.9 441.3 2659.6 443.8 2660.9 444.6 C2662.1 445.5 2664.2 446.0 2664.9 445.8 C2665.7 445.6 2666.6 444.4 2666.7 442.9 C2666.8 441.4 2665.9 436.9 2665.5 434.7 C2665.1 432.6 2663.9 428.3 2663.8 426.6 C2663.6 424.9 2664.1 422.2 2664.6 422.2 C2665.0 422.2 2666.5 425.3 2667.3 426.6 C2668.0 427.9 2669.4 431.2 2670.2 431.8 C2670.9 432.4 2672.7 431.9 2673.1 431.2 C2673.5 430.5 2673.5 428.4 2673.3 426.6 C2673.1 424.7 2671.9 419.9 2671.3 417.3 C2670.8 414.6 2669.5 409.4 2669.0 406.8 C2668.5 404.1 2668.0 401.0 2667.8 397.5 C2667.7 393.9 2667.6 386.6 2667.8 380.0 C2668.1 373.4 2669.2 358.2 2669.7 348.2 C2670.2 338.3 2674.5 310.9 2671.7 305.2 C2668.9 299.5 2651.9 300.4 2648.5 305.2 Z" fill="#4f5153" stroke="none" stroke-width="0" stroke-linejoin="round" stroke-linecap="round" />
<path d="M2775.9 304.5 C2779.2 309.0 2778.0 332.1 2778.2 341.5 C2778.5 350.9 2778.3 367.7 2777.9 375.1 C2777.5 382.6 2775.9 392.2 2775.6 397.5 C2775.2 402.8 2775.2 410.7 2775.0 414.9 C2774.7 419.1 2774.5 425.3 2773.8 428.9 C2773.1 432.5 2771.0 438.9 2769.7 441.7 C2768.4 444.5 2765.4 448.5 2763.9 449.9 C2762.4 451.2 2759.8 451.6 2758.7 451.6 C2757.5 451.6 2755.8 451.2 2755.5 449.9 C2755.2 448.5 2755.9 443.9 2756.3 441.7 C2756.8 439.5 2758.2 435.3 2758.7 433.6 C2759.1 431.8 2760.0 429.1 2759.8 428.3 C2759.7 427.5 2758.2 427.0 2757.5 427.7 C2756.8 428.5 2755.4 432.8 2754.6 434.1 C2753.7 435.5 2751.8 437.4 2751.1 437.6 C2750.4 437.9 2749.1 437.1 2749.0 435.9 C2748.9 434.7 2749.8 431.4 2750.5 428.9 C2751.3 426.4 2753.7 420.2 2754.6 417.3 C2755.5 414.3 2757.0 409.4 2757.5 406.8 C2758.0 404.1 2758.6 401.0 2758.7 397.5 C2758.7 393.9 2758.6 386.6 2758.1 380.0 C2757.6 373.4 2755.7 357.8 2755.0 348.2 C2754.4 338.6 2750.2 313.7 2753.0 307.9 C2755.8 302.1 2772.5 300.1 2775.9 304.5 Z" fill="#4f5153" stroke="none" stroke-width="0" stroke-linejoin="round" stroke-linecap="round" />
<path d="M2698.2 228.9 L2695.9 244.0 L2712.4 252.4 L2729.8 244.0 L2726.8 228.9 Z" fill="#4f5153" stroke="none" stroke-width="0" stroke-linejoin="round" stroke-linecap="round" />
<path d="M2695.5 241.7 C2692.6 241.9 2677.4 248.5 2673.7 250.1 C2670.0 251.7 2660.8 255.7 2658.6 257.5 C2656.4 259.2 2652.9 263.9 2651.8 267.6 C2650.8 271.3 2649.0 290.4 2648.5 294.5 C2648.0 298.5 2645.8 306.6 2646.8 307.9 C2647.8 309.2 2656.2 307.5 2658.6 307.2 C2661.0 307.0 2669.6 303.1 2671.0 305.2 C2672.4 307.3 2672.3 322.4 2672.4 328.1 C2672.4 333.7 2671.5 355.0 2671.3 361.7 C2671.1 368.4 2670.4 391.5 2670.3 395.3 C2670.3 399.1 2669.0 398.6 2671.0 399.3 C2673.0 400.1 2686.4 402.3 2690.5 402.7 C2694.6 403.1 2708.0 403.2 2712.4 403.0 C2716.7 402.8 2729.9 401.4 2734.2 400.7 C2738.5 399.9 2753.1 398.5 2755.0 395.3 C2757.0 392.1 2754.1 374.5 2753.7 368.4 C2753.3 362.4 2751.3 340.7 2751.3 334.8 C2751.3 328.9 2752.2 312.3 2753.7 309.6 C2755.2 306.9 2763.5 308.3 2766.1 307.9 C2768.7 307.5 2778.7 307.2 2779.6 305.2 C2780.5 303.2 2776.0 291.5 2775.2 287.7 C2774.4 284.0 2772.3 270.8 2771.2 267.6 C2770.1 264.4 2766.5 257.6 2764.5 255.8 C2762.4 253.9 2754.5 250.5 2751.0 249.1 C2747.5 247.7 2732.1 241.8 2729.2 241.7 C2726.2 241.6 2723.1 247.2 2721.4 248.1 C2719.7 248.9 2714.2 250.1 2712.4 250.1 C2710.5 250.1 2705.0 248.9 2703.3 248.1 C2701.6 247.2 2698.5 241.5 2695.5 241.7 Z" fill="#c9d3e5" stroke="#8fa3cf" stroke-width="1.1" stroke-linejoin="round" stroke-linecap="round" />
<path d="M2663.6 281.0 C2665.0 279.9 2669.7 289.5 2671.0 294.5 C2672.4 299.4 2668.0 315.3 2673.7 318.0 C2679.4 320.7 2712.7 314.2 2714.0 314.6 C2715.4 315.1 2688.7 318.7 2683.8 321.3 C2678.9 324.0 2677.5 329.4 2677.1 334.8 C2676.6 340.2 2680.6 357.2 2680.4 361.7 C2680.2 366.2 2675.4 364.4 2675.4 368.4 C2675.4 372.4 2681.2 387.9 2680.4 391.9 C2679.7 396.0 2671.0 402.7 2669.7 398.7 C2668.3 394.6 2670.0 371.1 2670.3 361.7 C2670.6 352.3 2671.9 335.6 2672.0 328.1 C2672.1 320.5 2674.3 308.0 2671.0 305.2 C2667.7 302.4 2648.9 307.5 2647.5 307.2 C2646.0 306.9 2658.1 306.4 2660.3 302.9 C2662.4 299.4 2662.2 282.1 2663.6 281.0 Z" fill="#b5c2db" stroke="none" stroke-width="0" stroke-linejoin="round" stroke-linecap="round" />
<path d="M2755.0 284.4 C2753.5 284.6 2752.0 298.7 2751.0 304.5 C2750.0 310.4 2750.3 322.9 2747.6 328.1 C2745.0 333.2 2736.2 339.7 2730.8 343.2 C2725.5 346.7 2706.4 354.0 2707.3 354.3 C2708.2 354.6 2732.6 345.5 2737.6 345.5 C2742.5 345.6 2744.3 352.8 2744.3 355.0 C2744.3 357.1 2736.9 359.0 2737.6 361.7 C2738.2 364.4 2748.0 371.1 2749.3 375.1 C2750.7 379.2 2746.8 389.3 2747.6 391.9 C2748.5 394.5 2754.8 397.8 2755.7 394.6 C2756.6 391.5 2754.9 376.4 2754.4 368.4 C2753.8 360.4 2751.8 342.6 2751.7 334.8 C2751.6 326.9 2750.2 313.6 2753.7 309.6 C2757.2 305.5 2776.7 305.4 2777.9 304.5 C2779.1 303.6 2765.8 305.5 2762.8 302.9 C2759.7 300.2 2756.6 284.1 2755.0 284.4 Z" fill="#b5c2db" stroke="none" stroke-width="0" stroke-linejoin="round" stroke-linecap="round" />
<path d="M2710.7 170.8 C2716.0 170.6 2723.3 172.2 2727.5 175.1 C2731.7 178.1 2734.1 183.8 2735.9 188.6 C2737.7 193.3 2738.1 199.8 2738.2 203.7 C2738.4 207.6 2737.8 209.0 2736.9 212.1 C2735.9 215.2 2734.4 218.8 2732.5 222.2 C2730.7 225.5 2729.2 229.7 2725.8 232.3 C2722.4 234.8 2716.8 237.8 2712.4 237.6 C2707.9 237.5 2702.3 234.2 2698.9 231.6 C2695.5 229.0 2694.0 225.4 2692.2 222.2 C2690.3 218.9 2688.9 215.5 2687.8 212.1 C2686.7 208.7 2685.6 206.2 2685.5 202.0 C2685.3 197.8 2685.5 191.2 2687.1 186.9 C2688.8 182.6 2691.6 178.8 2695.5 176.1 C2699.5 173.4 2705.3 170.9 2710.7 170.8 Z" fill="#414243" stroke="none" stroke-width="0" stroke-linejoin="round" stroke-linecap="round" />
<path d="M2692.5 205.4 C2693.7 203.7 2694.1 195.6 2695.9 192.9 C2697.7 190.3 2701.4 187.6 2704.6 187.6 C2707.8 187.6 2713.2 190.6 2717.4 192.9 C2721.6 195.3 2730.0 201.3 2732.9 203.0 C2735.7 204.7 2735.8 202.9 2736.2 204.4 C2736.7 205.9 2736.5 210.3 2735.9 213.1 C2735.2 215.9 2733.4 220.0 2731.8 222.9 C2730.3 225.7 2728.7 230.1 2725.8 232.3 C2722.9 234.4 2716.4 237.5 2712.4 237.3 C2708.3 237.2 2701.9 233.5 2698.9 231.3 C2695.9 229.0 2694.1 225.2 2692.5 222.5 C2691.0 219.8 2689.2 215.8 2688.5 213.1 C2687.8 210.4 2687.2 205.5 2687.8 204.4 C2688.4 203.2 2691.3 207.1 2692.5 205.4 Z" fill="#4f5153" stroke="none" stroke-width="0" stroke-linejoin="round" stroke-linecap="round" />
<path d="M2698.9 231.6 C2700.8 231.9 2708.8 237.6 2712.4 237.6 C2715.9 237.7 2723.8 232.5 2725.8 232.3 C2727.8 232.0 2729.3 234.2 2727.5 235.6 C2725.7 237.0 2716.3 242.7 2712.4 242.7 C2708.4 242.7 2699.7 237.1 2697.9 235.6 C2696.1 234.2 2697.0 231.3 2698.9 231.6 Z" fill="#444647" stroke="none" stroke-width="0" stroke-linejoin="round" stroke-linecap="round" />
</g>

</svg>
</body>
</html>
